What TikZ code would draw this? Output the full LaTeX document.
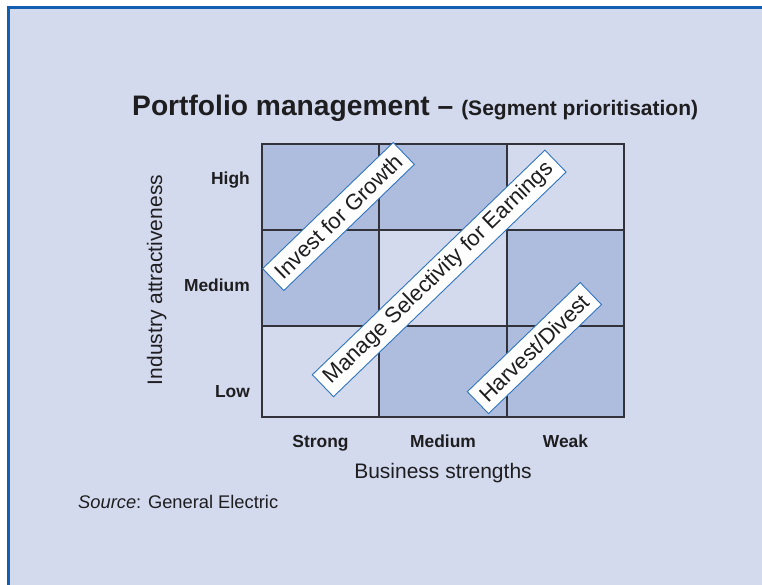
\documentclass[tikz,border=0pt]{standalone}
\usepackage{fontspec}
\setmainfont{Liberation Sans}
\definecolor{bgblue}{RGB}{212,218,238}
\definecolor{cellblue}{RGB}{174,189,222}
\definecolor{frameblue}{RGB}{18,94,176}
\definecolor{tagblue}{RGB}{45,115,190}
\definecolor{ink}{RGB}{30,30,32}
\definecolor{gridgray}{RGB}{50,50,58}
\tikzset{
  dark/.style={fill=cellblue},
  light/.style={fill=bgblue},
  tag/.style={draw=tagblue, line width=0.9pt, fill=white, rotate=44,
    font=\fontsize{22}{24}\selectfont, text=ink, inner xsep=7pt,
    minimum height=30.5pt, inner ysep=0pt},
  axisval/.style={font=\fontsize{17.4}{20}\selectfont\bfseries, text=ink, inner sep=0pt},
  axisname/.style={font=\fontsize{21}{24}\selectfont, text=ink, inner sep=0pt},
}
\begin{document}
\begin{tikzpicture}[x=1pt,y=-1pt]
\useasboundingbox (0,0) rectangle (762,584);
\fill[white] (0,0) rectangle (762,584);
\fill[bgblue] (8,7) rectangle (790,610);
\draw[frameblue, line width=3pt] (8,610) -- (8,7) -- (790,7);
% cells
\fill[dark]  (262,144) rectangle (379,230);
\fill[dark]  (379,144) rectangle (507,230);
\fill[light] (507,144) rectangle (624,230);
\fill[dark]  (262,230) rectangle (379,326);
\fill[light] (379,230) rectangle (507,326);
\fill[dark]  (507,230) rectangle (624,326);
\fill[light] (262,326) rectangle (379,417);
\fill[dark]  (379,326) rectangle (507,417);
\fill[dark]  (507,326) rectangle (624,417);
\draw[gridgray, line width=1.2pt] (262,144) rectangle (624,417);
\draw[gridgray, line width=1.2pt] (379,144) -- (379,417) (507,144) -- (507,417)
  (262,230) -- (624,230) (262,326) -- (624,326);
% diagonal tags
\node[tag] (invest) at (338.5,216.5) {Invest for Growth};
\node[tag] (manage) at (439.2,273.4) {Manage Selectivity for Earnings};
\node[tag] (harvest) at (534.4,348.1) {Harvest/Divest};
% title
\node[anchor=base west, inner sep=0pt, text=ink] (title) at (132,115)
  {\fontsize{28.2}{32}\selectfont\bfseries Portfolio management – {\fontsize{21}{24}\selectfont (Segment prioritisation)}};
% row labels
\node[axisval, anchor=east] (high) at (250,180) {High};
\node[axisval, anchor=east] (med) at (250,285) {Medium};
\node[axisval, anchor=east] (low) at (250,392) {Low};
% column labels
\node[axisval, anchor=base] (strong) at (320.5,447.5) {Strong};
\node[axisval, anchor=base] (cmed) at (443,447.5) {Medium};
\node[axisval, anchor=base] (weak) at (565.5,447.5) {Weak};
% axis names
\node[axisname, anchor=base] (bs) at (443,478) {Business strengths};
\node[axisname, anchor=base, rotate=90] (ia) at (162,280) {Industry attractiveness};
% source
\node[anchor=base west, inner sep=0pt, text=ink, font=\fontsize{18.3}{21}\selectfont] (src) at (78,508) {\textit{Source}: General Electric};
\end{tikzpicture}
\end{document}
